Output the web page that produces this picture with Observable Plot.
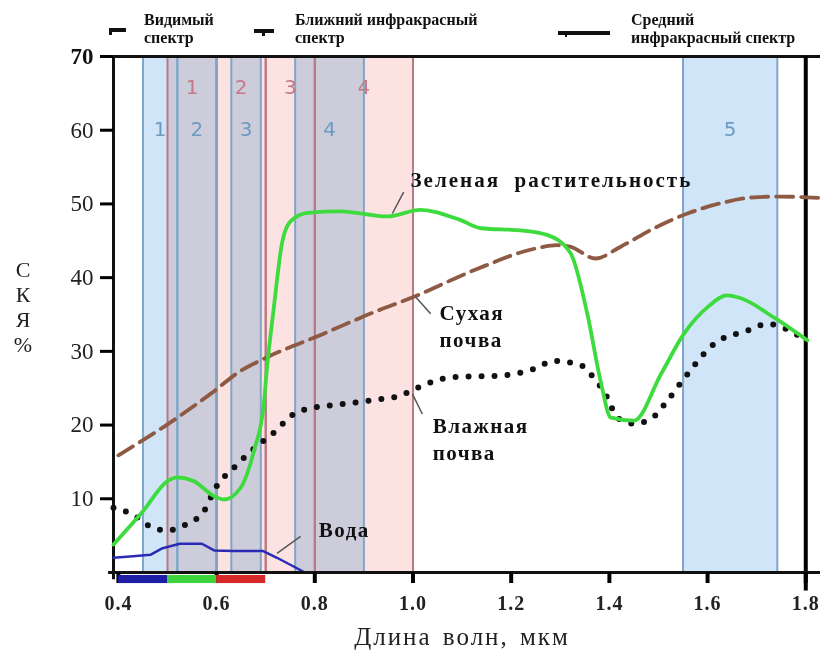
<!DOCTYPE html>
<html>
<head>
<meta charset="utf-8">
<script src="https://cdn.jsdelivr.net/npm/d3@7"></script>
<script src="https://cdn.jsdelivr.net/npm/@observablehq/plot@0.6"></script>
<style>
  body { margin: 0; background: #fff; }
  #wrap { position: relative; width: 824px; height: 653px; font-family: "Liberation Serif", "Times New Roman", serif; }
  #chart { position: absolute; left: 0; top: 0; }
  .hdr { position: absolute; font-weight: bold; font-size: 16px; line-height: 18px; color: #111; white-space: nowrap; }
  .mk { position: absolute; background: #111; }
  #ylab { position: absolute; left: 10px; top: 257px; width: 26px; font-size: 22px; line-height: 25px; text-align: center; color: #222; }
  #xlab { position: absolute; left: 0; width: 924px; top: 623px; text-align: center; font-size: 25px; letter-spacing: 2px; word-spacing: 3px; color: #222; white-space: nowrap; }
</style>
</head>
<body>
<div id="wrap">
  <div id="chart"></div>
  <div class="mk" style="left:109px;top:28px;width:17px;height:4px;"></div>
  <div class="mk" style="left:109px;top:28px;width:3px;height:7px;"></div>
  <div class="hdr" style="left:144px;top:11px;">Видимый<br>спектр</div>
  <div class="mk" style="left:254px;top:29px;width:20px;height:4px;"></div>
  <div class="mk" style="left:262px;top:29px;width:3px;height:7px;"></div>
  <div class="hdr" style="left:295px;top:11px;">Ближний инфракрасный<br>спектр</div>
  <div class="mk" style="left:558px;top:31px;width:52px;height:4px;"></div>
  <div class="mk" style="left:565px;top:31px;width:2px;height:6px;"></div>
  <div class="hdr" style="left:631px;top:11px;">Средний<br>инфракрасный спектр</div>
  <div id="ylab">С<br>К<br>Я<br>%</div>
  <div id="xlab">Длина волн, мкм</div>
</div>
<script>
// ---- Data ----
// Landsat TM bands (blue outline)
const tmStart = [0.45, 0.52, 0.63, 0.76, 1.55];
const tmEnd   = [0.52, 0.60, 0.69, 0.90, 1.742];
const tmLabel = ["1", "2", "3", "4", "5"];
// Landsat MSS bands (red outline)
const mssStart = [0.5, 0.6, 0.7, 0.8];
const mssEnd   = [0.6, 0.7, 0.8, 1.0];
const mssLabel = ["1", "2", "3", "4"];

// Green vegetation
const vegWl  = [0.39, 0.45, 0.5, 0.52, 0.553, 0.594, 0.615, 0.649, 0.676, 0.696, 0.703, 0.716, 0.733, 0.75, 0.785, 0.852, 0.948, 1.015, 1.097, 1.138, 1.22, 1.273, 1.321, 1.355, 1.382, 1.403, 1.45, 1.505, 1.552, 1.6, 1.64, 1.668, 1.735, 1.803];
const vegVal = [3.8, 8.3, 12.4, 12.9, 12.4, 10.4, 9.9, 11.5, 16.5, 22.8, 28.0, 35.6, 44.6, 47.6, 48.8, 49.0, 48.3, 49.2, 47.8, 46.7, 46.4, 45.8, 43.3, 35.1, 26.0, 21.0, 20.6, 26.9, 32.4, 36.0, 37.6, 37.2, 34.6, 31.5];

// Dry soil
const drySoilWl  = [0.4, 0.5, 0.587, 0.65, 0.703, 0.818, 0.92, 1.002, 1.124, 1.253, 1.294, 1.32, 1.372, 1.423, 1.491, 1.559, 1.627, 1.695, 1.75, 1.83];
const drySoilVal = [15.9, 20.1, 24.2, 27.4, 29.2, 32.4, 35.3, 37.4, 41.0, 44.0, 44.4, 44.2, 42.6, 44.2, 46.7, 48.7, 50.1, 50.9, 51.0, 50.8];

// Wet soil
const wetSoilWl  = [0.39, 0.428, 0.472, 0.5, 0.53, 0.574, 0.598, 0.635, 0.683, 0.717, 0.757, 0.785, 0.852, 0.92, 0.975, 1.0, 1.083, 1.178, 1.246, 1.288, 1.342, 1.362, 1.396, 1.416, 1.45, 1.484, 1.518, 1.552, 1.613, 1.681, 1.722, 1.8];
const wetSoilVal = [8.8, 7.9, 6.0, 5.7, 6.3, 8.3, 11.5, 14.2, 17.2, 19.0, 21.5, 22.2, 22.8, 23.4, 24.0, 24.8, 26.5, 26.7, 27.6, 28.7, 28.1, 26.9, 23.7, 21.0, 20.2, 20.8, 23.3, 26.3, 31.0, 32.8, 33.7, 31.5];

// Water
const waterWl  = [0.39, 0.43, 0.465, 0.49, 0.525, 0.57, 0.595, 0.635, 0.695, 0.723, 0.78];
const waterVal = [2.0, 2.2, 2.4, 3.3, 3.9, 3.9, 3.0, 2.9, 2.9, 2.0, 0];

// Visible colour bar under axis
const barStart = [0.4, 0.5, 0.6];
const barEnd   = [0.5, 0.6, 0.7];
const barColor = ["#1d1da6", "#3ed43e", "#d62828"];

// Axis ticks
const xTicks = [0.4, 0.6, 0.8, 1.0, 1.2, 1.4, 1.6, 1.8];
const yTicks = [10, 20, 30, 40, 50, 60];
const yTop = [70];

// Annotations (data coordinates)
const labelText = ["Зеленая  растительность", "Сухая\nпочва", "Влажная\nпочва", "Вода"];
const labelX    = [0.995, 1.054, 1.04, 0.808];
const labelY    = [53.5, 33.6, 18.3, 6.0];
const leadX1 = [0.981, 1.005, 0.999, 0.771];
const leadY1 = [51.6, 37.4, 24.2, 4.9];
const leadX2 = [0.958, 1.036, 1.019, 0.723];
const leadY2 = [48.7, 35.1, 21.5, 2.6];

// ---- Build tables ----
const tm = tmStart.map((s, i) => ({s, e: tmEnd[i], label: tmLabel[i], c: (s + tmEnd[i]) / 2}));
const mss = mssStart.map((s, i) => ({s, e: mssEnd[i], label: mssLabel[i], c: (s + mssEnd[i]) / 2}));
const veg = vegWl.map((x, i) => ({x, y: vegVal[i]}));
const dry = drySoilWl.map((x, i) => ({x, y: drySoilVal[i]}));
const wet = wetSoilWl.map((x, i) => ({x, y: wetSoilVal[i]}));
const water = waterWl.map((x, i) => ({x, y: waterVal[i]}));
const bar = barStart.map((s, i) => ({s, e: barEnd[i], c: barColor[i]}));
const labels = labelText.map((t, i) => ({t, x: labelX[i], y: labelY[i]}));
const leads = leadX1.map((x1, i) => ({x1, y1: leadY1[i], x2: leadX2[i], y2: leadY2[i]}));

const serif = "Liberation Serif, Times New Roman, serif";

const chart = Plot.plot({
  width: 824,
  height: 653,
  marginLeft: 113,
  marginRight: 4,
  marginTop: 56,
  marginBottom: 81,
  style: {background: "transparent", overflow: "visible"},
  x: {domain: [0.39, 1.83]},
  y: {domain: [0, 70]},
  marks: [
    // TM bands (blue)
    Plot.rectX(tm, {x1: "s", x2: "e", y1: 0, y2: 70, fill: "#d0e5f8"}),
    // MSS bands (pink) blended
    Plot.rectX(mss, {x1: "s", x2: "e", y1: 0, y2: 70, fill: "#fce3e2", mixBlendMode: "multiply"}),
    Plot.ruleX(mss.flatMap(d => [d.s, d.e]), {y1: 0, y2: 70, stroke: "#b87985", strokeWidth: 2}),
    Plot.ruleX(tm.flatMap(d => [d.s, d.e]), {y1: 0, y2: 70, stroke: "#7fa5c8", strokeWidth: 2}),
    Plot.text(tm, {x: "c", y: 60.1, text: "label", fill: "#6b9bc3", fontSize: 20, fontFamily: "DejaVu Sans"}),
    Plot.text(mss, {x: "c", y: 65.8, text: "label", fill: "#c47a86", fontSize: 20, fontFamily: "DejaVu Sans"}),

    // Frame lines
    Plot.ruleY([70], {x1: 0.39, x2: 1.83, stroke: "#111", strokeWidth: 3}),
    Plot.ruleX([0.39], {y1: -1, y2: 70, stroke: "#111", strokeWidth: 3}),
    Plot.ruleX([1.8], {y1: -2.5, y2: 70, stroke: "#000", strokeWidth: 4}),

    // Curves
    Plot.line(water, {x: "x", y: "y", stroke: "#2a2ab4", strokeWidth: 2.5}),
    Plot.line(dry, {x: "x", y: "y", stroke: "#8e5a44", strokeWidth: 3.8, strokeDasharray: "17 8", curve: "monotone-x"}),
    Plot.line(wet, {x: "x", y: "y", stroke: "#111", strokeWidth: 6, strokeDasharray: "0 13", strokeLinecap: "round", curve: "monotone-x"}),
    Plot.line(veg, {x: "x", y: "y", stroke: "#3edb3e", strokeWidth: 3.8, curve: "monotone-x"}),

    // Leader lines and labels
    Plot.link(leads, {x1: "x1", y1: "y1", x2: "x2", y2: "y2", stroke: "#555", strokeWidth: 1.5}),
    Plot.text(labels, {x: "x", y: "y", text: "t", textAnchor: "start", lineAnchor: "middle", lineHeight: 1.3, fontSize: 21, fontWeight: "bold", fontFamily: serif, fill: "#111"}),

    // Axes
    Plot.axisY({ticks: yTicks, tickSize: 13, tickPadding: 7, strokeWidth: 3, fontSize: 23, fontFamily: serif, fill: "#222", label: null}),
    Plot.axisY({ticks: yTop, tickSize: 13, tickPadding: 7, strokeWidth: 3, fontSize: 23, fontWeight: "bold", fontFamily: serif, fill: "#111", label: null}),
    Plot.ruleY([0], {x1: 0.38, x2: 1.83, stroke: "#111", strokeWidth: 3}),
    Plot.axisX({ticks: xTicks, tickSize: 11, tickPadding: 12, strokeWidth: 4, fontSize: 20, fontWeight: "bold", fontFamily: serif, fill: "#222", tickFormat: d => d.toFixed(1), label: null}),
    Plot.rectX(bar, {x1: "s", x2: "e", y1: -0.4, y2: -1.5, fill: "c"})
  ]
});
document.getElementById("chart").appendChild(chart);

// letter spacing for the serif annotation and tick texts
const svg = d3.select(chart);
svg.selectAll("text").each(function() {
  const t = this.textContent;
  if (t.startsWith("Зеленая")) this.style.letterSpacing = "2px";
  else if (t.startsWith("Сухая") || t.startsWith("Влажная") || t === "Вода") this.style.letterSpacing = "1.5px";
});
svg.selectAll("g[aria-label='x-axis tick label'] text").style("letter-spacing", "1px");
</script>
</body>
</html>
